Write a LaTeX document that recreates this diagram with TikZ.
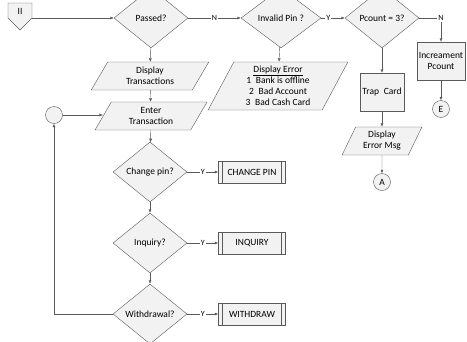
\documentclass[tikz,border=0pt]{standalone}
\usepackage{fontspec}
\setmainfont{Carlito}
\usepackage{tikz}
\usetikzlibrary{shapes.geometric,arrows.meta,positioning,calc}

\definecolor{flowfill}{RGB}{242,242,242}
\definecolor{flowline}{RGB}{90,90,90}

\tikzset{
    base/.style={draw=flowline, fill=flowfill, thin, font=\fontsize{9.5}{11}\selectfont, align=center},
    decision/.style={base, diamond, minimum width=74pt, minimum height=60pt, inner sep=0pt},
    io/.style={base, trapezium, trapezium left angle=65, trapezium right angle=115,
        trapezium stretches=true, inner sep=2pt},
    proc/.style={base, rectangle, inner sep=2pt},
    predef/.style={base, rectangle, minimum width=67pt, minimum height=22pt, inner sep=0pt,
        path picture={
            \draw[flowline] ($(path picture bounding box.north west)+(4pt,0)$) -- ($(path picture bounding box.south west)+(4pt,0)$);
            \draw[flowline] ($(path picture bounding box.north east)+(-4pt,0)$) -- ($(path picture bounding box.south east)+(-4pt,0)$);
        }},
    conn/.style={base, circle, minimum size=17pt, inner sep=0pt},
    line/.style={draw=flowline, thin, -{Latex[length=3.5pt,width=3pt]}},
    yn/.style={fill=white, inner sep=1pt, font=\fontsize{8}{9}\selectfont}
}

\begin{document}
\begin{tikzpicture}[x=1pt,y=-1pt]
    \useasboundingbox (0,0) rectangle (467,341);

    % off-page start connector
    \draw[base] (8,3) -- (32,3) -- (32,18) -- (20,30) -- (8,18) -- cycle;
    \node[font=\fontsize{9.5}{11}\selectfont, inner sep=0pt, minimum width=24pt, minimum height=15pt] (start) at (20,11) {II};

    % top row
    \node[decision] (passed) at (151,18) {Passed?};
    \node[decision, minimum width=80pt] (invpin) at (281,18) {Invalid Pin ?};
    \node[decision] (pcount) at (382,18) {Pcount = 3?};
    \node[proc, minimum width=48pt, minimum height=38pt] (incr) at (441,61) {Increament\\Pcount};
    \node[conn] (connE) at (441,109) {E};

    % middle column
    \node[io, minimum width=118pt, minimum height=28pt] (disptr) at (150,76) {Display\\Transactions};
    \node[io, minimum width=112pt, minimum height=28pt] (enter) at (151,116) {Enter\\Transaction};
    \node[conn] (loop) at (54,115) {};
    \node[decision] (chpin) at (150,172) {Change pin?};
    \node[decision] (inquiry) at (150,243) {Inquiry?};
    \node[decision] (withdraw) at (150,314) {Withdrawal?};
    \node[predef] (chpinbox) at (252,172) {CHANGE PIN};
    \node[predef] (inqbox) at (252,243) {INQUIRY};
    \node[predef] (wdbox) at (252,314) {WITHDRAW};

    % error column
    \node[io, minimum width=140pt, minimum height=48pt, inner sep=1pt] (disperr) at (278,86)
        {\underline{Display Error}\\1\enspace Bank is offline\\2\enspace Bad Account\\3\enspace Bad Cash Card};
    \node[proc, minimum width=44pt, minimum height=38pt] (trap) at (382,92) {Trap\enspace Card};
    \node[io, minimum width=80pt, minimum height=28pt] (disperrmsg) at (382,141) {Display\\Error Msg};
    \node[conn] (connA) at (382,182) {A};

    % connectors
    \draw[line] (start.east |- passed) -- (passed);
    \draw[line] (passed) -- node[yn] {N} (invpin);
    \draw[line] (invpin) -- node[yn, pos=0.3] {Y} (pcount);
    \draw[line] (pcount.east) -| node[yn, pos=0.5] {N} (incr.north);
    \draw[line] (incr) -- (connE);
    \draw[line] (passed) -- (disptr);
    \draw[line] (disptr) -- (enter);
    \draw[line] (invpin) -- (disperr);
    \draw[line] (pcount) -- (trap);
    \draw[line] (trap) -- (disperrmsg);
    \draw[line] (disperrmsg) -- (connA);
    \draw[line] (loop) -- (loop -| enter.west);
    \draw[line] (enter) -- (chpin);
    \draw[line] (chpin) -- (inquiry);
    \draw[line] (inquiry) -- (withdraw);
    \draw[line] (chpin) -- node[yn] {Y} (chpinbox);
    \draw[line] (inquiry) -- node[yn] {Y} (inqbox);
    \draw[line] (withdraw) -- node[yn] {Y} (wdbox);
    \draw[line] (withdraw.west) -| (loop.south);
\end{tikzpicture}
\end{document}
